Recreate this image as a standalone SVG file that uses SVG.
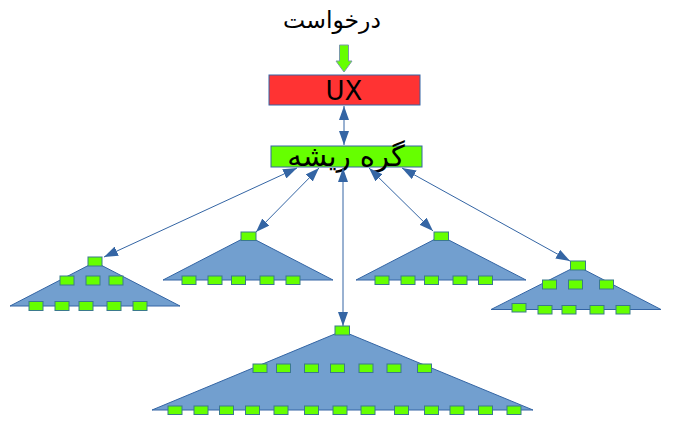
<svg xmlns="http://www.w3.org/2000/svg" width="673" height="445" viewBox="0 0 673 445">
<style>
.tri{fill:#729fcf;stroke:#3465a4;stroke-width:1}
.n{fill:#66ff00;stroke:#3b7a8c;stroke-width:1}
.c{stroke:#3465a4;stroke-width:1;fill:none;marker-start:url(#ah);marker-end:url(#ah)}
.t{font-family:"DejaVu Sans",sans-serif;fill:#000;text-anchor:middle}
</style>
<defs>
<marker id="ah" viewBox="0 0 14 10" refX="14" refY="5" markerWidth="14" markerHeight="10" markerUnits="userSpaceOnUse" orient="auto-start-reverse">
<path d="M0,0 L14,5 L0,10 z" fill="#3465a4"/>
</marker>
</defs>
<rect width="673" height="445" fill="#fff"/>
<g id="request">
<text class="t" x="332" y="28" font-size="23.5">درخواست</text>
<polygon points="339.5,45 348.5,45 348.5,61 352,61 344,72 336,61 339.5,61" fill="#66ff00" stroke="#7a9aa8" stroke-width="1"/>
</g>
<g id="ux">
<rect x="269" y="75" width="151" height="30" fill="#ff3333" stroke="#3465a4" stroke-width="1"/>
<text class="t" x="344" y="100" font-size="26">UX</text>
</g>
<g id="root">
<rect x="271" y="146" width="151" height="21" fill="#66ff00" stroke="#3465a4" stroke-width="1"/>
<text class="t" x="346" y="166" font-size="29">گره ریشه</text>
</g>
<g id="connectors">
<line class="c" x1="344" y1="106" x2="344" y2="145"/>
<line class="c" x1="297" y1="168" x2="104" y2="257"/>
<line class="c" x1="319" y1="168" x2="256" y2="232"/>
<line class="c" x1="343" y1="168" x2="343" y2="326"/>
<line class="c" x1="369" y1="168" x2="433" y2="231"/>
<line class="c" x1="402" y1="168" x2="570" y2="261"/>
</g>
<g id="treeA">
<polygon class="tri" points="95,262 180,306 10,306"/>
<rect class="n" x="88" y="257" width="14" height="9"/>
<rect class="n" x="60" y="276" width="14" height="9"/>
<rect class="n" x="86" y="276" width="14" height="9"/>
<rect class="n" x="109" y="276" width="14" height="9"/>
<rect class="n" x="29" y="301.5" width="14" height="9"/>
<rect class="n" x="55" y="301.5" width="14" height="9"/>
<rect class="n" x="79" y="301.5" width="14" height="9"/>
<rect class="n" x="107" y="301.5" width="14" height="9"/>
<rect class="n" x="133" y="301.5" width="14" height="9"/>
</g>
<g id="treeB">
<polygon class="tri" points="248,236 333,280 163,280"/>
<rect class="n" x="241" y="232" width="15" height="8.5"/>
<rect class="n" x="182" y="276" width="14" height="8.5"/>
<rect class="n" x="208" y="276" width="14" height="8.5"/>
<rect class="n" x="231.5" y="276" width="14" height="8.5"/>
<rect class="n" x="260" y="276" width="14" height="8.5"/>
<rect class="n" x="286" y="276" width="14" height="8.5"/>
</g>
<g id="treeC">
<polygon class="tri" points="441,236 526,280 356,280"/>
<rect class="n" x="434" y="232" width="14.5" height="8.5"/>
<rect class="n" x="375" y="276" width="14" height="8.5"/>
<rect class="n" x="401" y="276" width="14" height="8.5"/>
<rect class="n" x="424.5" y="276" width="14" height="8.5"/>
<rect class="n" x="453" y="276" width="14" height="8.5"/>
<rect class="n" x="478.5" y="276" width="14" height="8.5"/>
</g>
<g id="treeD">
<polygon class="tri" points="577,266 661,309.5 491,309.5"/>
<rect class="n" x="570.5" y="261" width="15" height="9"/>
<rect class="n" x="542.5" y="280" width="14" height="9"/>
<rect class="n" x="568.5" y="280" width="14" height="9"/>
<rect class="n" x="599.5" y="280" width="14" height="9"/>
<rect class="n" x="512" y="303.5" width="14" height="8.5"/>
<rect class="n" x="538" y="305.5" width="14" height="8.5"/>
<rect class="n" x="562" y="305.5" width="14" height="8.5"/>
<rect class="n" x="590" y="305.5" width="14" height="8.5"/>
<rect class="n" x="616" y="305.5" width="14" height="8.5"/>
</g>
<g id="treeE">
<polygon class="tri" points="342,331 533,410 152,410"/>
<rect class="n" x="335" y="326" width="14.5" height="9"/>
<rect class="n" x="253" y="364" width="14" height="8.5"/>
<rect class="n" x="276.5" y="364" width="14" height="8.5"/>
<rect class="n" x="304.5" y="364" width="14" height="8.5"/>
<rect class="n" x="330.5" y="364" width="14" height="8.5"/>
<rect class="n" x="359" y="364" width="14" height="8.5"/>
<rect class="n" x="387" y="364" width="14" height="8.5"/>
<rect class="n" x="417.5" y="364" width="14" height="8.5"/>
<rect class="n" x="168" y="406" width="14" height="8.5"/>
<rect class="n" x="194" y="406" width="14" height="8.5"/>
<rect class="n" x="219.5" y="406" width="14" height="8.5"/>
<rect class="n" x="245.5" y="406" width="14" height="8.5"/>
<rect class="n" x="274" y="406" width="14" height="8.5"/>
<rect class="n" x="304.5" y="406" width="14" height="8.5"/>
<rect class="n" x="333" y="406" width="14" height="8.5"/>
<rect class="n" x="361" y="406" width="14" height="8.5"/>
<rect class="n" x="394.5" y="406" width="14" height="8.5"/>
<rect class="n" x="424.5" y="406" width="14" height="8.5"/>
<rect class="n" x="450" y="406" width="14" height="8.5"/>
<rect class="n" x="478.5" y="406" width="14" height="8.5"/>
<rect class="n" x="507" y="406" width="14" height="8.5"/>
</g>
</svg>
